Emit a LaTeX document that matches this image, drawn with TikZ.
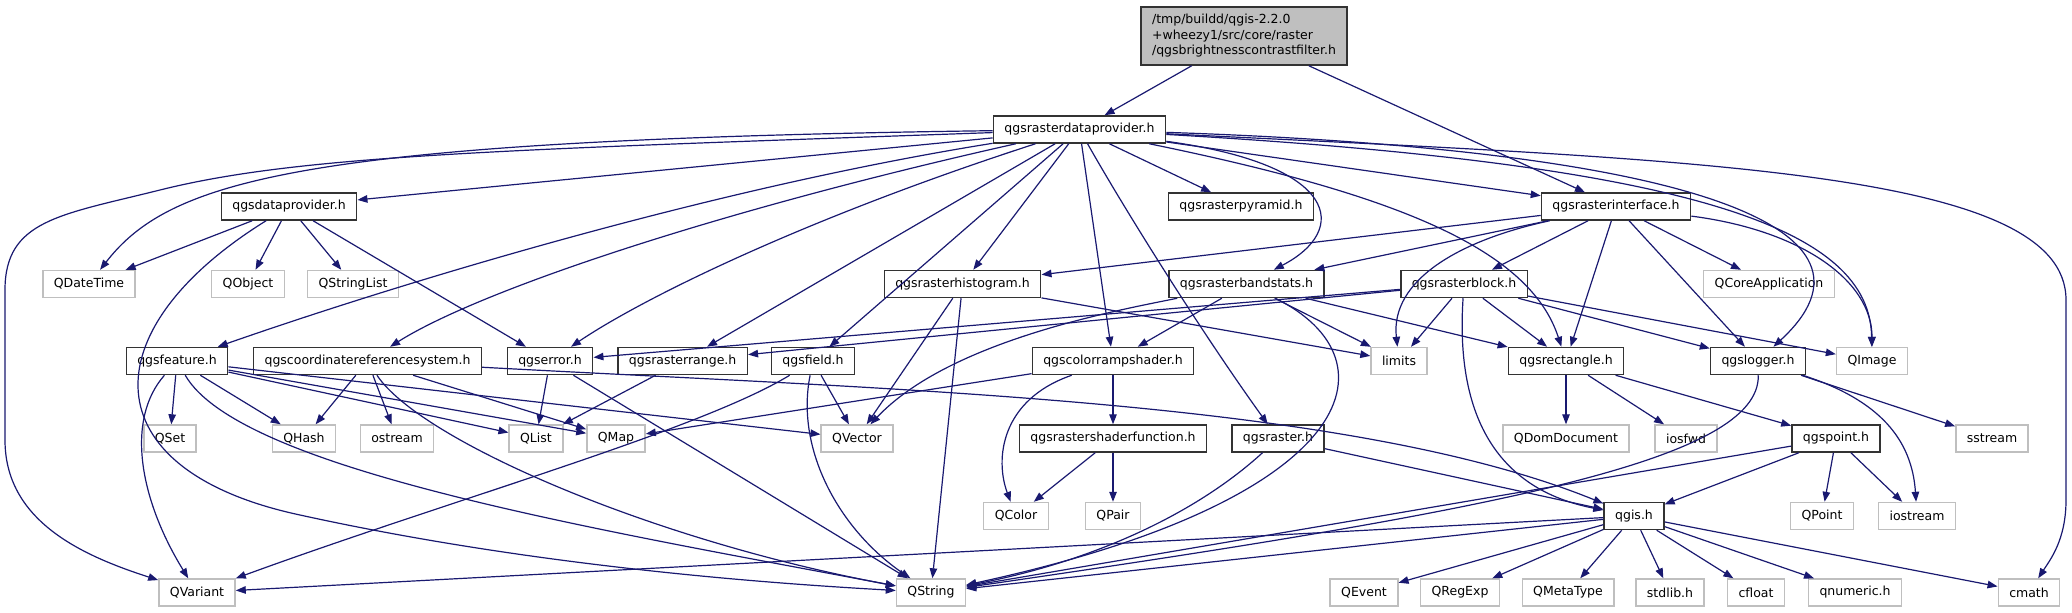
\documentclass[tikz,border=0pt]{standalone}
\usepackage{fontspec}
\usepackage{xcolor}
\usepackage{tikz}
\usetikzlibrary{arrows.meta}
\newfontfamily\dxfont{DejaVu Sans}
\definecolor{edgeclr}{RGB}{25,25,112}
\definecolor{sysclr}{RGB}{191,191,191}
\definecolor{rootclr}{RGB}{191,191,191}
\tikzset{
  hdr/.style={rectangle,draw=black!80,line width=1.5pt,fill=white,
              minimum height=27pt,inner xsep=11pt,inner ysep=1pt,
              font=\dxfont\fontsize{12.5pt}{15.5pt}\selectfont},
  sys/.style={hdr,draw=sysclr,line width=1.4pt},
  rootbox/.style={hdr,fill=rootclr,align=left,minimum height=58pt},
  dep/.style={-{Triangle[length=10pt,width=7.5pt]},draw=edgeclr,line width=1.2pt},
}

\begin{document}
\begin{tikzpicture}[x=1pt,y=1pt]
\useasboundingbox (0,0) rectangle (2072,-613);

% Project headers
\node[rootbox] (root) at (1244,-36) {/tmp/buildd/qgis-2.2.0\\+wheezy1/src/core/raster\\/qgsbrightnesscontrastfilter.h};
\node[hdr] (rdp)       at (1079.5,-129.5) {qgsrasterdataprovider.h};
\node[hdr] (dataprov)  at (289,-206.5)    {qgsdataprovider.h};
\node[hdr] (pyramid)   at (1241,-206.5)   {qgsrasterpyramid.h};
\node[hdr] (iface)     at (1616,-206.5)   {qgsrasterinterface.h};
\node[hdr] (hist)      at (962.5,-284)    {qgsrasterhistogram.h};
\node[hdr] (bandstats) at (1246.5,-284)   {qgsrasterbandstats.h};
\node[hdr] (block)     at (1464,-284)     {qgsrasterblock.h};
\node[hdr] (feature)   at (177,-361)      {qgsfeature.h};
\node[hdr] (crs)       at (367.5,-361)    {qgscoordinatereferencesystem.h};
\node[hdr] (qgserror)  at (550,-361)      {qgserror.h};
\node[hdr] (range)     at (682.6,-361)    {qgsrasterrange.h};
\node[hdr] (field)     at (813,-361)      {qgsfield.h};
\node[hdr] (colorramp) at (1113,-361)     {qgscolorrampshader.h};
\node[hdr] (rect)      at (1566,-361)     {qgsrectangle.h};
\node[hdr] (logger)    at (1758,-361)     {qgslogger.h};
\node[hdr] (shaderfn)  at (1113,-438.5)   {qgsrastershaderfunction.h};
\node[hdr] (raster)    at (1278,-438.5)   {qgsraster.h};
\node[hdr] (qgspoint)  at (1836,-438.5)   {qgspoint.h};
\node[hdr] (qgis)      at (1634,-516)     {qgis.h};

% System headers, row by row
\foreach \n/\x/\t in {qdatetime/89/QDateTime,qobject/248/QObject,
                      qstringlist/353/QStringList,qcoreapp/1769/QCoreApplication}
  \node[sys] (\n) at (\x,-284) {\t};
\foreach \n/\x/\t in {limits/1399/limits,qimage/1872/QImage}
  \node[sys] (\n) at (\x,-361) {\t};
\foreach \n/\x/\t in {qset/170/QSet,qhash/304/QHash,ostream/397/ostream,
                      qlist/536/QList,qmap/616/QMap,qvector/857/QVector,
                      qdomdoc/1566/QDomDocument,iosfwd/1686/iosfwd,sstream/1992/sstream}
  \node[sys] (\n) at (\x,-438.5) {\t};
\foreach \n/\x/\t in {qcolor/1016/QColor,qpair/1113/QPair,
                      qpoint/1822/QPoint,iostream/1917/iostream}
  \node[sys] (\n) at (\x,-516) {\t};
\foreach \n/\x/\t in {qvariant/197/QVariant,qstring/931/QString,qevent/1364/QEvent,
                      qregexp/1460/QRegExp,qmetatype/1568/QMetaType,stdlib/1670/stdlib.h,
                      cfloat/1756/cfloat,qnumeric/1855/qnumeric.h,cmath/2029/cmath}
  \node[sys] (\n) at (\x,-592.5) {\t};

% Root
\draw[dep] (root) -- (rdp);
\draw[dep] (root) -- (iface);

% qgsrasterdataprovider.h
\draw[dep] (rdp) .. controls (500,-150) and (300,-155) .. (160,-190)
           .. controls (60,-215) and (5,-220) .. (5,-290) -- (5,-440)
           .. controls (5,-520) and (80,-555) .. (qvariant);
\draw[dep] (rdp) .. controls (300,-140) and (170,-180) .. (qdatetime);
\draw[dep] (rdp) .. controls (700,-190) and (380,-290) .. (feature);
\draw[dep] (rdp) .. controls (720,-210) and (480,-290) .. (crs);
\draw[dep] (rdp) .. controls (800,-220) and (640,-300) .. (qgserror);
\foreach \t in {dataprov,range,field,hist,colorramp,pyramid,iface}
  \draw[dep] (rdp) -- (\t);
\draw[dep] (rdp) .. controls (1125,-210) and (1200,-330) .. (raster);
\draw[dep] (rdp) .. controls (1340,-165) and (1350,-230) .. (bandstats);
\draw[dep] (rdp) .. controls (1400,-195) and (1530,-250) .. (rect);
\draw[dep] (rdp) .. controls (1700,-150) and (1900,-230) .. (logger);
\draw[dep] (rdp) .. controls (1700,-165) and (1870,-230) .. (qimage);
\draw[dep] (rdp) .. controls (1700,-160) and (2066,-170) .. (2066,-300) -- (2066,-500)
           .. controls (2066,-540) and (2050,-560) .. (cmath);

% qgsdataprovider.h
\foreach \t in {qdatetime,qobject,qstringlist,qgserror}
  \draw[dep] (dataprov) -- (\t);
\draw[dep] (dataprov) .. controls (90,-330) and (90,-470) .. (300,-515)
           .. controls (550,-570) and (800,-585) .. (qstring);

% qgsrasterinterface.h
\foreach \t in {hist,bandstats,block,qcoreapp,rect,logger}
  \draw[dep] (iface) -- (\t);
\draw[dep] (iface) .. controls (1460,-240) and (1390,-280) .. (limits);
\draw[dep] (iface) .. controls (1800,-230) and (1872,-280) .. (qimage);

% histogram, bandstats, block
\foreach \t in {limits,qvector,qstring}
  \draw[dep] (hist) -- (\t);
\foreach \t in {colorramp,limits,rect}
  \draw[dep] (bandstats) -- (\t);
\draw[dep] (bandstats) .. controls (1120,-310) and (950,-340) .. (qvector);
\draw[dep] (bandstats) .. controls (1400,-360) and (1360,-500) .. (qstring);
\foreach \t in {qgserror,range,limits,rect,logger,qimage}
  \draw[dep] (block) -- (\t);
\draw[dep] (block) .. controls (1455,-420) and (1500,-490) .. (qgis);

% qgsfeature.h, crs
\foreach \t in {qset,qhash,qlist,qmap,qvector}
  \draw[dep] (feature) -- (\t);
\draw[dep] (feature) .. controls (125,-420) and (140,-500) .. (qvariant);
\draw[dep] (feature) .. controls (240,-470) and (600,-530) .. (qstring);
\foreach \t in {qhash,ostream,qmap}
  \draw[dep] (crs) -- (\t);
\draw[dep] (crs) .. controls (420,-440) and (650,-540) .. (qstring);
\draw[dep] (crs) .. controls (900,-390) and (1350,-400) .. (qgis);

% error, range, field
\draw[dep] (qgserror) -- (qlist);
\draw[dep] (qgserror) -- (qstring);
\draw[dep] (range) -- (qlist);
\draw[dep] (field) -- (qvector);
\draw[dep] (field) .. controls (700,-430) and (450,-500) .. (qvariant);
\draw[dep] (field) .. controls (795,-450) and (840,-530) .. (qstring);

% shaders, raster
\draw[dep] (colorramp) -- (qmap);
\draw[dep] (colorramp) -- (shaderfn);
\draw[dep] (colorramp) .. controls (1000,-400) and (995,-460) .. (qcolor);
\draw[dep] (shaderfn) -- (qcolor);
\draw[dep] (shaderfn) -- (qpair);
\draw[dep] (raster) -- (qgis);
\draw[dep] (raster) .. controls (1200,-510) and (1100,-560) .. (qstring);

% rectangle, logger, point
\foreach \t in {qdomdoc,iosfwd,qgspoint}
  \draw[dep] (rect) -- (\t);
\draw[dep] (logger) -- (sstream);
\draw[dep] (logger) .. controls (1880,-400) and (1912,-440) .. (iostream);
\draw[dep] (logger) .. controls (1760,-460) and (1500,-510) .. (qstring);
\foreach \t in {qgis,qpoint,iostream,qstring}
  \draw[dep] (qgspoint) -- (\t);

% qgis.h
\foreach \t in {qvariant,qstring,qevent,qregexp,qmetatype,stdlib,cfloat,qnumeric,cmath}
  \draw[dep] (qgis) -- (\t);
\end{tikzpicture}
\end{document}
